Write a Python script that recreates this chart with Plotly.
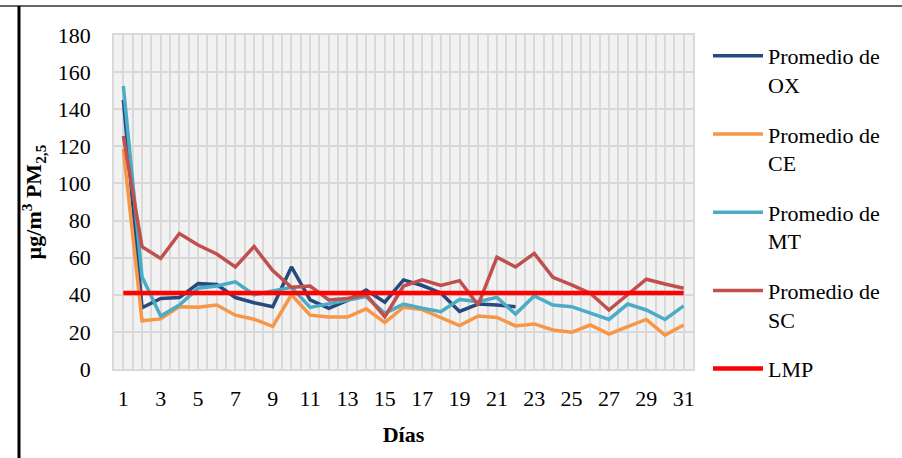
import plotly.graph_objects as go

days = list(range(1, 32))
ox = [145, 33, 38, 38.5, 46, 45.5, 38.5, 35.7, 33.6, 55, 37.2, 32.7, 37, 42.5, 36,
      48, 45, 41, 31, 35, 34.5, 33.6]
ce = [118.5, 26, 27, 33.6, 33.3, 34.5, 29, 26.8, 23, 40, 29, 28, 28, 32.4, 25,
      33.3, 32, 27.5, 23.4, 28.6, 27.8, 23.2, 24.3, 21, 19.8, 23.7, 18.8, 22.8, 26.7, 18.3, 23.7]
mt = [152.5, 49.7, 28.6, 34.5, 43.5, 44.7, 47, 40, 42, 44, 33.2, 35, 37.2, 39, 30,
      35, 32.7, 30.9, 37.5, 36.3, 38.6, 29.6, 39.4, 34.5, 33.6, 30, 26.7, 35, 31.8, 26.7, 34]
sc = [125.6, 65.9, 59.6, 73, 66.8, 62, 55, 66, 53, 44, 44.7, 37.2, 38, 40, 28.2,
      44.7, 48, 45, 47.6, 34.5, 60.2, 55, 62.3, 49.4, 45.3, 40.8, 31.8, 40, 48.4, 45.8, 43.5]
lmp_value = 41
lmp = [lmp_value] * len(days)

series = [
    ("Promedio de<br>OX", ox, "#264a7d", 3.5),
    ("Promedio de<br>CE", ce, "#f79646", 3.5),
    ("Promedio de<br>MT", mt, "#4bacc6", 3.5),
    ("Promedio de<br>SC", sc, "#c0504d", 3.5),
    ("LMP", lmp, "#ff0000", 4.5),
]

W, H = 902, 458
L, R, T, B = 114, W - 693, 35, H - 369
FONT = "Liberation Serif, Times New Roman, serif"
FS = 22

fig = go.Figure()
for i, (name, vals, color, width) in enumerate(series):
    fig.add_trace(go.Scatter(
        x=days[:len(vals)], y=vals, name=name, mode="lines",
        line=dict(color=color, width=width), legendgroup=f"g{i}",
    ))

pw, ph = W - L - R, H - T - B
def px_x(p):
    return (p - L) / pw
def px_y(p):
    return (H - B - p) / ph

shapes = [
    dict(type="line", xref="paper", yref="paper", x0=px_x(0), x1=px_x(W), y0=px_y(6), y1=px_y(6),
         line=dict(color="#333333", width=1.5)),
    dict(type="line", xref="paper", yref="paper", x0=px_x(19), x1=px_x(19), y0=px_y(6), y1=px_y(H),
         line=dict(color="#000000", width=3)),
]

fig.update_layout(
    width=W, height=H,
    margin=dict(l=L, r=R, t=T, b=B, autoexpand=False),
    paper_bgcolor="white", plot_bgcolor="#f2f2f2",
    font=dict(family=FONT, size=FS, color="black"),
    showlegend=True,
    legend=dict(x=px_x(708), y=px_y(35), xanchor="left", yanchor="top",
                font=dict(size=FS, family=FONT), valign="top",
                tracegroupgap=18, bgcolor="rgba(0,0,0,0)", itemwidth=50,
                maxheight=520),
    shapes=shapes,
    xaxis=dict(range=[0.5, 31.5], tickvals=list(range(1, 32, 2)),
               ticks="outside", ticklen=9, tickcolor="rgba(0,0,0,0)",
               showgrid=True, gridcolor="#d9d9d9", gridwidth=1.5,
               minor=dict(dtick=0.5, tick0=0.5, showgrid=True, gridcolor="#d9d9d9", gridwidth=1.5),
               showline=True, linecolor="#d9d9d9", linewidth=1.5, mirror=True,
               zeroline=False,
               title=dict(text="<b>Días</b>", standoff=16, font=dict(size=FS, family=FONT))),
    yaxis=dict(range=[0, 180], dtick=20,
               ticks="outside", ticklen=17, tickcolor="rgba(0,0,0,0)",
               showgrid=True, gridcolor="#d9d9d9", gridwidth=1.5,
               showline=True, linecolor="#d9d9d9", linewidth=1.5, mirror=True,
               zeroline=False,
               title=dict(text="<b>µg/m<sup>3</sup> PM<sub>2,5</sub></b>", standoff=10,
                          font=dict(size=FS, family=FONT))),
)

fig.write_html("out.html", config={"displayModeBar": False},
               post_script="document.body.style.margin='0';")
